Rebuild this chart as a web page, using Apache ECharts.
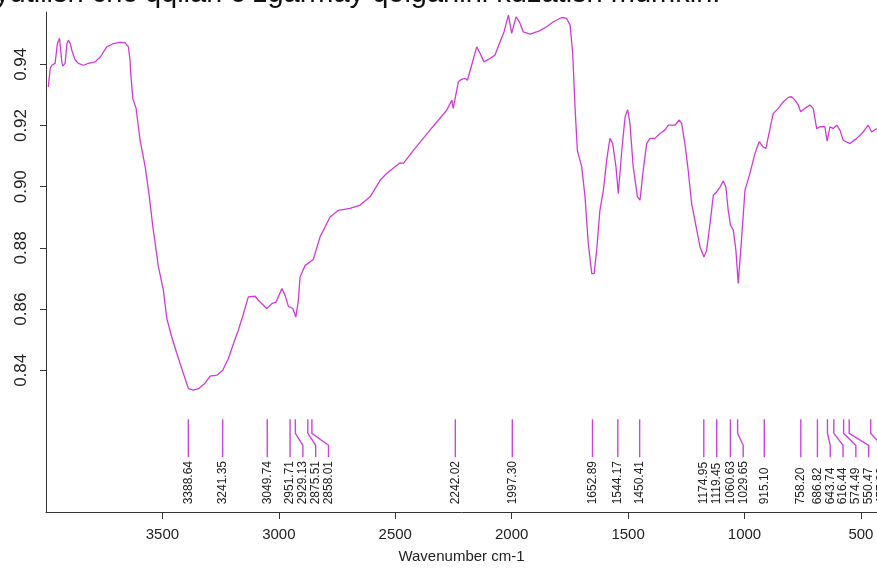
<!DOCTYPE html>
<html>
<head>
<meta charset="utf-8">
<script src="https://cdn.jsdelivr.net/npm/echarts@6/dist/echarts.min.js"></script>
<style>
  html, body { margin: 0; padding: 0; background: #fff; }
  #chart { width: 877px; height: 569px; }
</style>
</head>
<body>
<div id="chart"></div>
<script>
// spectrum
const wavenumbers = [
  3990, 3982, 3975, 3968, 3961, 3951, 3942, 3932, 3928, 3918, 3910, 3904, 3896, 3889, 3875, 3861,
  3839, 3818, 3789, 3767, 3739, 3710, 3682, 3660, 3646, 3639, 3636, 3627, 3613, 3596, 3574, 3556,
  3541, 3517, 3496, 3481, 3460, 3438, 3412, 3388, 3367, 3345, 3317, 3295, 3266, 3241, 3217, 3195,
  3174, 3152, 3131, 3102, 3088, 3052, 3030, 3012, 2987, 2973, 2959, 2940, 2927, 2916, 2909, 2887,
  2852, 2823, 2780, 2744, 2694, 2651, 2608, 2565, 2537, 2501, 2479, 2465, 2422, 2351, 2279, 2257,
  2251, 2243, 2229, 2215, 2200, 2190, 2172, 2150, 2136, 2119, 2093, 2072, 2050, 2033, 2014, 2000,
  1981, 1967, 1950, 1921, 1878, 1850, 1821, 1785, 1764, 1749, 1738, 1728, 1718, 1699, 1685, 1671,
  1656, 1646, 1635, 1621, 1606, 1592, 1578, 1566, 1552, 1542, 1527, 1513, 1502, 1492, 1478, 1460,
  1449, 1435, 1420, 1406, 1385, 1363, 1342, 1327, 1299, 1280, 1270, 1256, 1242, 1227, 1205, 1191,
  1174, 1163, 1148, 1134, 1120, 1105, 1091, 1080, 1070, 1060, 1048, 1037, 1027, 1012, 998, 977,
  955, 937, 920, 908, 898, 877, 855, 834, 812, 798, 783, 769, 759, 741, 719, 705,
  690, 676, 655, 645, 633, 619, 604, 590, 576, 547, 518, 490, 469, 454, 432
];
const transmittance = [
  0.9326, 0.9387, 0.9397, 0.9400, 0.9403, 0.9468, 0.9485, 0.9408, 0.9394, 0.9403, 0.9468, 0.9479, 0.9468, 0.9446, 0.9414, 0.9403,
  0.9397, 0.9403, 0.9408, 0.9424, 0.9457, 0.9468, 0.9472, 0.9470, 0.9457, 0.9414, 0.9370, 0.9288, 0.9256, 0.9152, 0.9065, 0.8967,
  0.8869, 0.8738, 0.8662, 0.8569, 0.8509, 0.8455, 0.8394, 0.8340, 0.8335, 0.8340, 0.8358, 0.8381, 0.8384, 0.8400, 0.8438, 0.8487,
  0.8531, 0.8585, 0.8640, 0.8642, 0.8629, 0.8602, 0.8618, 0.8623, 0.8667, 0.8645, 0.8609, 0.8602, 0.8574, 0.8629, 0.8705, 0.8743,
  0.8762, 0.8836, 0.8901, 0.8923, 0.8929, 0.8940, 0.8967, 0.9021, 0.9043, 0.9065, 0.9078, 0.9076, 0.9119, 0.9185, 0.9250, 0.9283,
  0.9256, 0.9250, 0.9343, 0.9351, 0.9354, 0.9348, 0.9397, 0.9457, 0.9436, 0.9408, 0.9419, 0.9430, 0.9474, 0.9506, 0.9561, 0.9501,
  0.9555, 0.9539, 0.9506, 0.9499, 0.9510, 0.9523, 0.9539, 0.9553, 0.9550, 0.9528, 0.9436, 0.9261, 0.9119, 0.9065, 0.8967, 0.8814,
  0.8716, 0.8716, 0.8792, 0.8923, 0.8989, 0.9087, 0.9158, 0.9141, 0.9065, 0.8977, 0.9119, 0.9228, 0.9252, 0.9207, 0.9065, 0.8967,
  0.8956, 0.9054, 0.9141, 0.9158, 0.9158, 0.9174, 0.9185, 0.9201, 0.9201, 0.9218, 0.9207, 0.9141, 0.9054, 0.8945, 0.8858, 0.8803,
  0.8770, 0.8792, 0.8880, 0.8972, 0.8983, 0.8999, 0.9019, 0.8999, 0.8923, 0.8874, 0.8858, 0.8792, 0.8684, 0.8836, 0.8989, 0.9043,
  0.9109, 0.9147, 0.9130, 0.9125, 0.9163, 0.9239, 0.9256, 0.9277, 0.9292, 0.9294, 0.9283, 0.9267, 0.9245, 0.9256, 0.9267, 0.9256,
  0.9190, 0.9196, 0.9196, 0.9149, 0.9196, 0.9190, 0.9201, 0.9185, 0.9152, 0.9141, 0.9158, 0.9179, 0.9201, 0.9179, 0.9190
];

// labelled peaks
const peakPositions = [
  3388.64, 3241.35, 3049.74, 2951.71, 2929.13, 2875.51, 2858.01, 2242.02, 1997.30, 1652.89, 1544.17, 1450.41,
  1174.95, 1119.45, 1060.63, 1029.65, 915.10, 758.20, 686.82, 643.74, 616.44, 574.49, 550.47, 457.92
];
const peakLabels = [
  '3388.64', '3241.35', '3049.74', '2951.71', '2929.13', '2875.51', '2858.01', '2242.02', '1997.30', '1652.89', '1544.17', '1450.41',
  '1174.95', '1119.45', '1060.63', '1029.65', '915.10', '758.20', '686.82', '643.74', '616.44', '574.49', '550.47', '457.92'
];

const xTicks = [500, 1000, 1500, 2000, 2500, 3000, 3500];
const yTicks = [0.84, 0.86, 0.88, 0.90, 0.92, 0.94];

const CURVE_COLOR = '#d03ad8';
const PEAK_COLOR = '#cc44dd';
const FONT = '"Liberation Sans", Arial, sans-serif';

// where the peak markers sit, in y units
const LINE_TOP = 0.8240, BEND_1 = 0.8194, BEND_2 = 0.8155, LINE_BOTTOM = 0.8116, TEXT_START = 0.7962;
const LABEL_GAP = 55; // min spacing between labels, cm-1

// push crowded labels to the right (lower wavenumber)
const labelPos = [];
peakPositions.forEach((p, i) => {
  labelPos.push(i === 0 ? p : Math.min(p, labelPos[i - 1] - LABEL_GAP));
});

const chart = echarts.init(document.getElementById('chart'));
chart.setOption({
  animation: false,
  backgroundColor: '#fff',
  graphic: [{
    type: 'text',
    left: -5,
    top: -21,
    style: {
      text: 'yutilish cho‘qqilari o‘zgarmay qolganini kuzatish mumkin.',
      font: '29px ' + FONT,
      fill: '#111'
    }
  }],
  grid: { left: 46, right: 0, top: 12, bottom: 57 },
  xAxis: {
    type: 'value',
    inverse: true,
    min: 431,
    max: 4000,
    name: 'Wavenumber cm-1',
    nameLocation: 'middle',
    nameGap: 37,
    nameTextStyle: { fontFamily: FONT, fontSize: 15, color: '#222' },
    axisLine: { show: true, lineStyle: { color: '#333', width: 1 } },
    axisTick: { show: true, length: 7, customValues: xTicks, lineStyle: { color: '#333' } },
    axisLabel: {
      customValues: xTicks,
      margin: 15,
      fontFamily: FONT,
      fontSize: 15,
      color: '#222',
      formatter: v => String(v)
    },
    splitLine: { show: false }
  },
  yAxis: {
    type: 'value',
    min: 0.7937,
    max: 0.9571,
    axisLine: { show: true, lineStyle: { color: '#333', width: 1 } },
    axisTick: { show: true, length: 6, customValues: yTicks, lineStyle: { color: '#333' } },
    axisLabel: {
      customValues: yTicks,
      rotate: 90,
      margin: 16,
      fontFamily: FONT,
      fontSize: 17,
      color: '#222',
      formatter: v => v.toFixed(2)
    },
    splitLine: { show: false }
  },
  series: [
    {
      type: 'line',
      data: wavenumbers.map((w, i) => [w, transmittance[i]]),
      showSymbol: false,
      lineStyle: { color: CURVE_COLOR, width: 1.3 },
      clip: true
    },
    {
      type: 'custom',
      data: peakPositions.map((p, i) => [p, labelPos[i]]),
      encode: { x: 0 },
      renderItem: function (params, api) {
        const wn = api.value(0), lw = api.value(1);
        const a = api.coord([wn, LINE_TOP]);
        const b = api.coord([wn, BEND_1]);
        const c = api.coord([lw, BEND_2]);
        const d = api.coord([lw, LINE_BOTTOM]);
        const t = api.coord([lw, TEXT_START]);
        return {
          type: 'group',
          children: [
            {
              type: 'polyline',
              shape: { points: [a, b, c, d] },
              style: { stroke: PEAK_COLOR, lineWidth: 1.4, fill: null }
            },
            {
              type: 'text',
              x: t[0],
              y: t[1],
              rotation: Math.PI / 2,
              style: {
                text: peakLabels[params.dataIndex],
                font: '12px ' + FONT,
                fill: '#222',
                align: 'left',
                verticalAlign: 'middle'
              }
            }
          ]
        };
      }
    }
  ]
});
</script>
</body>
</html>
